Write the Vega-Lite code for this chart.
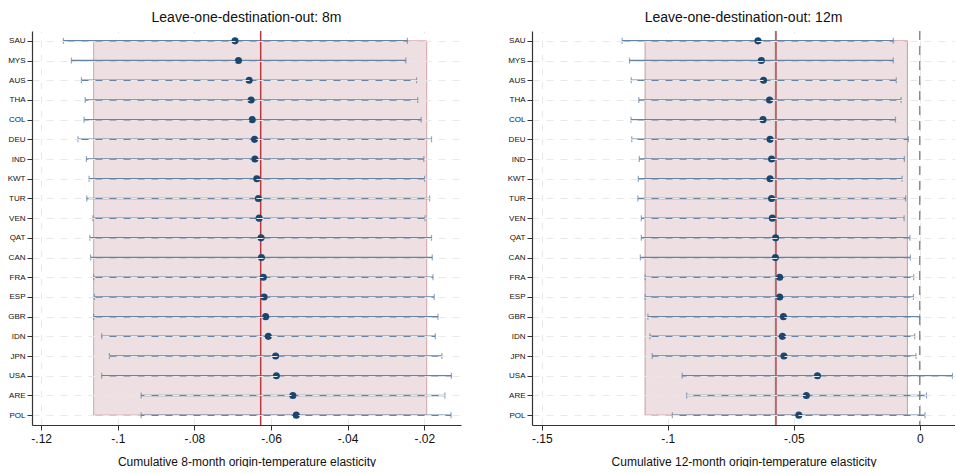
{
  "$schema": "https://vega.github.io/schema/vega-lite/v6.json",
  "background": "white",
  "padding": {"left": 7, "top": 11, "right": 0, "bottom": 0},
  "spacing": 46,
  "config": {
    "font": "Liberation Sans",
    "view": {"stroke": null},
    "title": {"fontSize": 14, "fontWeight": "normal", "color": "#111", "offset": 5},
    "axis": {
      "domainColor": "#333",
      "tickColor": "#333",
      "labelColor": "#111",
      "titleColor": "#111",
      "titleFontWeight": "normal",
      "gridColor": "#e8e8e8",
      "gridDash": [7, 7],
      "gridWidth": 1
    },
    "axisX": {"labelFontSize": 12, "titleFontSize": 12, "tickSize": 5, "labelPadding": 3, "titlePadding": 12, "domainWidth": 1.2},
    "axisY": {"labelFontSize": 8, "tickSize": 5, "labelPadding": 2, "domainWidth": 1.2}
  },
  "datasets": {
    "m8": [
      {"country": "SAU", "est": -0.0694, "lo": -0.1142, "hi": -0.0244},
      {"country": "MYS", "est": -0.0685, "lo": -0.1121, "hi": -0.0248},
      {"country": "AUS", "est": -0.0657, "lo": -0.1095, "hi": -0.0220},
      {"country": "THA", "est": -0.0652, "lo": -0.1085, "hi": -0.0217},
      {"country": "COL", "est": -0.0649, "lo": -0.1088, "hi": -0.0208},
      {"country": "DEU", "est": -0.0643, "lo": -0.1104, "hi": -0.0181},
      {"country": "IND", "est": -0.0642, "lo": -0.1082, "hi": -0.0201},
      {"country": "KWT", "est": -0.0637, "lo": -0.1075, "hi": -0.0199},
      {"country": "TUR", "est": -0.0633, "lo": -0.1081, "hi": -0.0186},
      {"country": "VEN", "est": -0.0631, "lo": -0.1065, "hi": -0.0198},
      {"country": "QAT", "est": -0.0626, "lo": -0.1073, "hi": -0.0181},
      {"country": "CAN", "est": -0.0625, "lo": -0.1071, "hi": -0.0179},
      {"country": "FRA", "est": -0.0620, "lo": -0.1063, "hi": -0.0177},
      {"country": "ESP", "est": -0.0618, "lo": -0.1061, "hi": -0.0174},
      {"country": "GBR", "est": -0.0614, "lo": -0.1063, "hi": -0.0164},
      {"country": "IDN", "est": -0.0607, "lo": -0.1042, "hi": -0.0171},
      {"country": "JPN", "est": -0.0588, "lo": -0.1022, "hi": -0.0154},
      {"country": "USA", "est": -0.0586, "lo": -0.1042, "hi": -0.0129},
      {"country": "ARE", "est": -0.0543, "lo": -0.0939, "hi": -0.0146},
      {"country": "POL", "est": -0.0534, "lo": -0.0939, "hi": -0.0130}
    ],
    "m12": [
      {"country": "SAU", "est": -0.0642, "lo": -0.1181, "hi": -0.0105},
      {"country": "MYS", "est": -0.0629, "lo": -0.1152, "hi": -0.0105},
      {"country": "AUS", "est": -0.0620, "lo": -0.1145, "hi": -0.0093},
      {"country": "THA", "est": -0.0596, "lo": -0.1115, "hi": -0.0074},
      {"country": "COL", "est": -0.0622, "lo": -0.1146, "hi": -0.0096},
      {"country": "DEU", "est": -0.0594, "lo": -0.1143, "hi": -0.0045},
      {"country": "IND", "est": -0.0588, "lo": -0.1113, "hi": -0.0061},
      {"country": "KWT", "est": -0.0594, "lo": -0.1117, "hi": -0.0070},
      {"country": "TUR", "est": -0.0588, "lo": -0.1119, "hi": -0.0056},
      {"country": "VEN", "est": -0.0585, "lo": -0.1105, "hi": -0.0062},
      {"country": "QAT", "est": -0.0572, "lo": -0.1105, "hi": -0.0039},
      {"country": "CAN", "est": -0.0573, "lo": -0.1109, "hi": -0.0037},
      {"country": "FRA", "est": -0.0556, "lo": -0.1090, "hi": -0.0024},
      {"country": "ESP", "est": -0.0556, "lo": -0.1090, "hi": -0.0025},
      {"country": "GBR", "est": -0.0541, "lo": -0.1079, "hi": 0.0000},
      {"country": "IDN", "est": -0.0545, "lo": -0.1071, "hi": -0.0020},
      {"country": "JPN", "est": -0.0539, "lo": -0.1062, "hi": -0.0015},
      {"country": "USA", "est": -0.0406, "lo": -0.0943, "hi": 0.0130},
      {"country": "ARE", "est": -0.0450, "lo": -0.0925, "hi": 0.0027},
      {"country": "POL", "est": -0.0480, "lo": -0.0982, "hi": 0.0021}
    ],
    "ref8": [{"est": -0.0627, "lo": -0.1063, "hi": -0.01935, "top": "SAU", "bottom": "POL"}],
    "ref12": [{"est": -0.0571, "lo": -0.1090, "hi": -0.0049, "top": "SAU", "bottom": "POL", "zero": 0}]
  },
  "hconcat": [
    {
      "title": "Leave-one-destination-out: 8m",
      "width": 429,
      "height": 394,
      "layer": [
        {
          "data": {"name": "ref8"},
          "mark": {"type": "rect", "fill": "#eee0e2", "stroke": "#d3a4a8", "strokeWidth": 1},
          "encoding": {
            "x": {"field": "lo", "type": "quantitative"},
            "x2": {"field": "hi"},
            "y": {"field": "top", "type": "ordinal"},
            "y2": {"field": "bottom"}
          }
        },
        {
          "data": {"name": "m8"},
          "mark": {"type": "rule", "color": "#6583a3", "strokeWidth": 1.5},
          "encoding": {
            "x": {"field": "lo", "type": "quantitative",
              "scale": {"domain": [-0.1224, -0.0104], "nice": false, "zero": false},
              "axis": {"values": [-0.12, -0.1, -0.08, -0.06, -0.04, -0.02], "grid": true,
                "labelExpr": "replace(toString(datum.value), '0.', '.')",
                "title": "Cumulative 8-month origin-temperature elasticity"}},
            "x2": {"field": "hi"},
            "y": {"field": "country", "type": "ordinal",
              "scale": {"type": "point", "padding": 0.5, "domain": ["SAU","MYS","AUS","THA","COL","DEU","IND","KWT","TUR","VEN","QAT","CAN","FRA","ESP","GBR","IDN","JPN","USA","ARE","POL"]},
              "axis": {"title": null, "grid": true}}
          }
        },
        {
          "data": {"name": "m8"},
          "mark": {"type": "tick", "color": "#6583a3", "size": 6, "thickness": 1.2},
          "encoding": {
            "x": {"field": "lo", "type": "quantitative"},
            "y": {"field": "country", "type": "ordinal"}
          }
        },
        {
          "data": {"name": "m8"},
          "mark": {"type": "tick", "color": "#6583a3", "size": 6, "thickness": 1.2},
          "encoding": {
            "x": {"field": "hi", "type": "quantitative"},
            "y": {"field": "country", "type": "ordinal"}
          }
        },
        {
          "data": {"name": "ref8"},
          "mark": {"type": "rule", "color": "#b8383d", "strokeWidth": 1.5},
          "encoding": {"x": {"field": "est", "type": "quantitative"}}
        },
        {
          "data": {"name": "m8"},
          "mark": {"type": "circle", "color": "#1a476f", "size": 50, "opacity": 1},
          "encoding": {
            "x": {"field": "est", "type": "quantitative"},
            "y": {"field": "country", "type": "ordinal"}
          }
        }
      ]
    },
    {
      "title": "Leave-one-destination-out: 12m",
      "width": 423,
      "height": 394,
      "layer": [
        {
          "data": {"name": "ref12"},
          "mark": {"type": "rect", "fill": "#eee0e2", "stroke": "#c99a9e", "strokeWidth": 1},
          "encoding": {
            "x": {"field": "lo", "type": "quantitative"},
            "x2": {"field": "hi"},
            "y": {"field": "top", "type": "ordinal"},
            "y2": {"field": "bottom"}
          }
        },
        {
          "data": {"name": "ref12"},
          "mark": {"type": "rule", "color": "#8c8c8c", "strokeWidth": 1.5, "strokeDash": [9, 6]},
          "encoding": {"x": {"field": "zero", "type": "quantitative"}}
        },
        {
          "data": {"name": "m12"},
          "mark": {"type": "rule", "color": "#6583a3", "strokeWidth": 1.5},
          "encoding": {
            "x": {"field": "lo", "type": "quantitative",
              "scale": {"domain": [-0.1539, 0.014], "nice": false, "zero": false},
              "axis": {"values": [-0.15, -0.1, -0.05, 0], "grid": true,
                "labelExpr": "replace(toString(datum.value), '0.', '.')",
                "title": "Cumulative 12-month origin-temperature elasticity"}},
            "x2": {"field": "hi"},
            "y": {"field": "country", "type": "ordinal",
              "scale": {"type": "point", "padding": 0.5, "domain": ["SAU","MYS","AUS","THA","COL","DEU","IND","KWT","TUR","VEN","QAT","CAN","FRA","ESP","GBR","IDN","JPN","USA","ARE","POL"]},
              "axis": {"title": null, "grid": true}}
          }
        },
        {
          "data": {"name": "m12"},
          "mark": {"type": "tick", "color": "#6583a3", "size": 6, "thickness": 1.2},
          "encoding": {
            "x": {"field": "lo", "type": "quantitative"},
            "y": {"field": "country", "type": "ordinal"}
          }
        },
        {
          "data": {"name": "m12"},
          "mark": {"type": "tick", "color": "#6583a3", "size": 6, "thickness": 1.2},
          "encoding": {
            "x": {"field": "hi", "type": "quantitative"},
            "y": {"field": "country", "type": "ordinal"}
          }
        },
        {
          "data": {"name": "ref12"},
          "mark": {"type": "rule", "color": "#b06a6c", "strokeWidth": 2},
          "encoding": {"x": {"field": "est", "type": "quantitative"}}
        },
        {
          "data": {"name": "m12"},
          "mark": {"type": "circle", "color": "#1a476f", "size": 50, "opacity": 1},
          "encoding": {
            "x": {"field": "est", "type": "quantitative"},
            "y": {"field": "country", "type": "ordinal"}
          }
        }
      ]
    }
  ]
}
